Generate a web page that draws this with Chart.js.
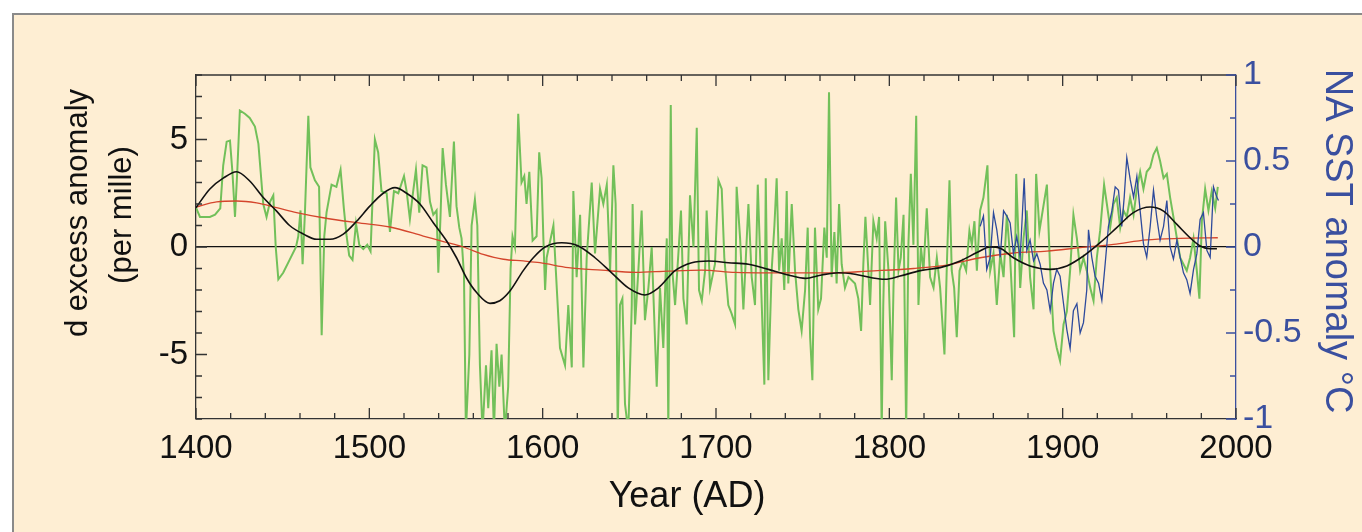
<!DOCTYPE html>
<html>
<head>
<meta charset="utf-8">
<script src="https://cdn.jsdelivr.net/npm/chart.js@4.4.0/dist/chart.umd.min.js"></script>
<style>
  body { margin: 0; background: #fff; }
  #panel { position: absolute; left: 12px; top: 13px; width: 1360px; height: 530px;
           background: #feeed3; border-left: 2px solid #8a8a8a; border-top: 2px solid #8a8a8a; }
  #chart { position: absolute; left: 0; top: 0; }
</style>
</head>
<body>
<div id="panel"></div>
<canvas id="chart" width="1362" height="532"></canvas>
<script>
// d excess record (green), per mille
var greenYears = [1400,1402.3,1408,1411,1414,1415.7,1417.7,1419.6,1421,1422.5,1423.8,1425.3,1428.2,1431,1434,1436,1437.3,1438.8,1440.7,1442.7,1444.6,1446,1447.5,1450.3,1454,1457.7,1459,1460.3,1461.5,1462.8,1464.8,1466,1468.6,1471,1472.5,1474,1475.3,1478.2,1481,1483.4,1485.3,1486.9,1488.4,1490.3,1492.3,1494.2,1496.5,1498.8,1500.7,1503.2,1505.1,1507,1510,1511.9,1514.2,1516.7,1520,1521.5,1523.4,1525,1526.9,1528.8,1530.7,1533,1535,1536.9,1538.8,1539.8,1541.1,1542.3,1544.2,1546.5,1548.8,1550.3,1551.9,1553.2,1554.6,1555.7,1557.7,1559,1560.9,1562.3,1563.8,1565.3,1567.3,1568.6,1570.5,1571.9,1573.4,1575,1576.3,1578.2,1580.1,1581.5,1582.6,1584,1585.9,1587.8,1589.4,1590.7,1592.3,1594.2,1596.5,1598,1599.4,1600.4,1601.4,1602.3,1606.2,1610,1612.9,1614.8,1616.8,1617.7,1619.6,1621.6,1623.5,1625.4,1628.3,1630.2,1633.1,1635,1637,1638.9,1640.8,1642.1,1643.3,1644.6,1646,1647.5,1649.4,1651.4,1651.9,1653.3,1655.2,1657.1,1659,1661,1662.9,1665.8,1667.7,1669.6,1671.6,1672.5,1673.9,1674.8,1676.4,1678.3,1679.8,1681.2,1683.1,1685,1687,1688.9,1690.2,1691.8,1693.7,1694.6,1696.6,1699.4,1701.4,1703.3,1704.8,1707.1,1709,1711,1711.9,1713.9,1715.8,1718.7,1720.6,1722.5,1724.1,1726.4,1727.9,1728.7,1730.2,1732.1,1733.7,1735,1736.4,1737.9,1739.4,1740.8,1741.7,1743.7,1745.6,1747.5,1749.4,1751.4,1752.9,1754.3,1755.6,1757.1,1759,1760.6,1762.5,1763.9,1765.2,1766.7,1768.3,1769.6,1771,1772.5,1774.4,1776.4,1780.2,1782.1,1783.7,1785,1786.2,1787.3,1788.9,1790.8,1792.7,1794.1,1795.6,1796.5,1797.6,1799.5,1801.4,1802.4,1803.9,1805.3,1806.6,1808.2,1809.7,1811,1812.4,1813.9,1815.5,1816.8,1818.2,1819.7,1821.6,1823.5,1825.5,1827.4,1829.3,1831.8,1833.2,1834.7,1836,1837.4,1838.9,1840.5,1842.4,1844.3,1846.2,1847.6,1849.1,1850.5,1852.4,1854.3,1856.6,1858.2,1860.1,1862,1864,1865.9,1867.8,1869.7,1872,1873.2,1875.5,1877.4,1879.3,1881.2,1883.2,1884.7,1886.6,1888.5,1890.9,1892.8,1894.7,1896.6,1898.5,1900.5,1902.4,1904.3,1906.2,1908.2,1910.1,1912,1913.9,1915.9,1917.8,1919.7,1921.6,1923.9,1925.5,1927.4,1929.3,1931.2,1933.2,1935.1,1937,1938.9,1940.9,1942.8,1944.7,1946.6,1948.5,1950.5,1952.4,1954.3,1956.2,1958.2,1960.1,1962,1963.9,1965.9,1967.8,1969.7,1971.6,1973.5,1975.5,1977.4,1978.9,1980.3,1982.2,1984.1,1986,1988,1989.5];
var greenValues = [1.83,1.4,1.4,1.5,1.8,3.8,4.9,4.95,3.5,1.4,3.5,6.35,6.2,6.0,5.6,4.8,3.5,2.0,1.4,2.1,2.4,0.0,-1.5,-1.2,-0.6,0.0,0.5,1.7,-0.8,1.5,6.1,3.7,3.1,2.8,-4.1,0.5,1.6,2.9,2.8,3.6,1.8,0.5,-0.4,-0.6,1.1,0.1,-0.1,0.1,-0.2,5.0,4.4,2.6,2.5,0.7,2.6,2.5,3.3,2.6,1.3,2.4,3.6,1.6,3.8,3.7,2.1,1.5,1.7,-1.2,1.5,4.6,2.9,1.4,4.9,1.9,0.9,0.4,-1.3,-8.6,-5,1.0,2.2,1.0,-5.5,-8.6,-5.5,-7.5,-4.8,-8.6,-4.5,-6.5,-5,-8.6,-6.5,-1,0.5,0.0,6.2,3.0,3.3,2.0,3.5,0.3,0.5,4.4,3.2,0.4,-2.0,-0.5,1.0,-4.7,-5.5,-2.7,-5.6,2.6,-1.4,1.5,-5.6,-0.5,3.0,-0.3,2.7,2.0,2.9,-1.1,3.8,2.0,-8.6,-2.7,-2.4,-7.3,-8.6,-2.7,2.0,-3.6,-1.1,1.7,-3.4,-1.9,0.0,-6.5,-1.9,-4.7,0.4,-8.6,6.6,-1.1,-2.7,-0.3,1.7,-2.4,-3.6,2.4,0.0,5.55,-2.0,-2.5,-1.1,1.7,-1.9,-0.8,3.1,2.7,-0.5,-2.7,-3.1,-3.6,2.8,0.4,-2.9,2.0,-1.4,-2.7,2.9,-2.7,-6.4,3.2,-6.2,-1.1,1.0,3.2,-1.1,0.4,-2.0,2.6,-1.7,2.0,-1.1,-2.9,-3.9,-2.0,0.9,-4.2,-6.2,0.9,-2.9,-2.4,0.9,-0.5,7.2,-1.4,0.7,-1.7,2.0,-0.8,-1.9,-1.4,-1.7,-2.4,-3.9,-0.8,1.4,-0.2,-2.7,1.2,0.4,1.4,-8.6,-2.7,1.2,-1.1,-6.2,-1.9,2.3,-1.1,-0.5,1.5,-8.6,0.1,3.4,0.1,6.1,-2.7,0.0,-1.1,1.8,-1.4,-1.9,-0.5,-1.9,-5.0,-0.8,3.1,-1.1,-1.9,-4.2,-1.1,-0.65,-1.1,0.75,0.1,1.2,-1.1,1.7,2.3,3.8,-1.1,-0.3,-2.7,-0.3,-1.4,1.5,-0.5,-4.2,3.4,-1.9,0.4,1.7,-1.4,-2.9,3.4,0.75,1.7,2.9,-1.1,-3.9,-4.7,-5.3,-3.6,-3.0,-1.1,1.5,0.4,-1.1,-0.5,-1.1,-1.9,-2.5,-0.5,0.75,2.9,2.0,0.9,2.0,2.3,0.9,1.7,1.4,2.3,1.5,2.7,3.5,2.7,3.5,3.7,4.3,4.6,4.0,3.2,3.4,2.3,1.4,0.4,-0.5,-0.8,-1.1,-0.5,0.4,-1.1,-2.4,1.2,2.7,1.7,2.6,1.8,2.8];

// smoothed d excess (black)
var blackYears = [1400,1408,1415.7,1423.4,1431,1438.8,1446.5,1454,1462,1469.6,1477.3,1485,1492.7,1500.3,1508,1514.8,1521.5,1529.2,1536.9,1544.6,1550.3,1556,1561.9,1569.6,1575.3,1581.1,1588.8,1594.6,1601.4,1611,1620.6,1630.2,1639.8,1649.4,1659,1666.8,1676.4,1686,1695.6,1707.1,1718.7,1730.2,1741.7,1751.4,1761,1770.6,1780.2,1789.8,1797.5,1806.2,1817.8,1829.3,1840.9,1850.5,1858.2,1864,1871.6,1881.2,1892.8,1902.4,1912,1921.6,1931.2,1940.8,1950.5,1958.2,1965.9,1973.5,1979.3,1985,1989];
var blackValues = [1.83,2.7,3.2,3.5,3.07,2.3,1.67,1.0,0.6,0.36,0.36,0.6,1.2,1.9,2.5,2.76,2.5,2.0,1.13,0.28,-0.5,-1.43,-2.12,-2.62,-2.5,-2.05,-1.1,-0.5,0.0,0.2,0.05,-0.5,-1.2,-1.9,-2.23,-1.9,-1.1,-0.73,-0.65,-0.73,-0.8,-1.04,-1.3,-1.46,-1.3,-1.2,-1.27,-1.43,-1.5,-1.35,-1.1,-0.96,-0.65,-0.26,0.0,-0.06,-0.5,-0.88,-1.04,-0.88,-0.42,0.2,0.9,1.6,1.86,1.67,1.05,0.43,0.05,-0.08,-0.08];

// long-term trend (red)
var redYears = [1400,1411.9,1423.4,1435,1446.5,1458,1473.4,1492.7,1511.9,1531.1,1542.7,1554.2,1565.7,1577.3,1588.8,1598.4,1614.8,1634,1653.3,1672.5,1691.8,1711,1730.2,1749.5,1768.7,1787.9,1814,1833.2,1852.4,1871.6,1890.9,1910.1,1929.3,1948.5,1967.8,1989.5];
var redValues = [1.86,2.1,2.14,2.05,1.83,1.6,1.36,1.13,0.93,0.51,0.25,0,-0.34,-0.57,-0.65,-0.73,-0.96,-1.08,-1.18,-1.12,-1.08,-1.18,-1.2,-1.2,-1.2,-1.12,-1.0,-0.84,-0.5,-0.28,-0.19,-0.03,0.12,0.33,0.4,0.43];

// NA SST anomaly (blue), deg C, right axis
var blueYears = [1852.4,1854.3,1856.2,1858.2,1860.1,1862,1864,1865.9,1867.8,1869.7,1871.6,1873.5,1875.5,1877.8,1879.3,1881.2,1883.2,1885.1,1887,1888.9,1890.9,1892.8,1894.7,1896.6,1898.5,1900.5,1902.4,1904.3,1906.2,1908.2,1910.1,1912,1913.9,1914.9,1916.8,1918.7,1920.7,1922.6,1924.5,1926.4,1928.4,1930.3,1932.2,1934.1,1935.5,1937,1939,1940.9,1942.8,1944.7,1946.6,1948.5,1950.5,1952.4,1954.3,1956.2,1958.2,1960.1,1962,1963.9,1965.9,1967.8,1969.7,1971.6,1973.5,1975.5,1977.4,1979.3,1981.2,1983.2,1985.1,1987,1988.9,1989.9];
var blueValues = [0.12,0.18,-0.13,-0.06,0.2,0.1,-0.06,0.21,0.18,0.14,-0.04,0.06,-0.06,0.4,-0.02,0.04,-0.08,-0.04,-0.1,-0.21,-0.25,-0.37,-0.21,-0.13,-0.17,-0.33,-0.48,-0.59,-0.37,-0.33,-0.5,-0.44,-0.25,0.1,-0.06,-0.17,-0.21,-0.31,-0.1,0.12,0.21,0.35,0.33,0.12,0.29,0.52,0.39,0.29,0.41,0.21,0.02,-0.06,0.12,0.33,0.17,0.04,0.12,0.27,0.0,-0.07,0.04,-0.06,-0.15,-0.19,-0.27,-0.13,-0.04,0.16,0.2,-0.02,-0.06,0.35,0.29,0.27];

var leftTicks = [-5, 0, 5];
var rightTicks = [-1, -0.5, 0, 0.5, 1];
var yearTicks = [1400, 1500, 1600, 1700, 1800, 1900, 2000];

var blue = '#3a4f9f';
var fontFamily = '"Liberation Sans", Arial, Helvetica, sans-serif';

function pairs(xs, ys) {
    return xs.map(function (x, i) { return { x: x, y: ys[i] }; });
}

// inward tick marks, top frame line, axis titles
var frameMarks = {
    id: 'frameMarks',
    afterDatasetsDraw: function (chart) {
        var ctx = chart.ctx, a = chart.chartArea, s = chart.scales;
        ctx.save();
        ctx.lineWidth = 1.3;
        ctx.strokeStyle = '#333';
        ctx.beginPath();
        ctx.moveTo(a.left, a.top);
        ctx.lineTo(a.right, a.top);
        ctx.stroke();
        ctx.beginPath();
        s.x.ticks.forEach(function (t) {
            var px = s.x.getPixelForValue(t.value);
            var len = yearTicks.indexOf(t.value) >= 0 ? 11 : 6;
            ctx.moveTo(px, a.top); ctx.lineTo(px, a.top + len);
            ctx.moveTo(px, a.bottom); ctx.lineTo(px, a.bottom - len);
        });
        s.y.ticks.forEach(function (t) {
            var py = s.y.getPixelForValue(t.value);
            var len = leftTicks.indexOf(t.value) >= 0 ? 11 : 6;
            ctx.moveTo(a.left, py); ctx.lineTo(a.left + len, py);
        });
        ctx.stroke();
        ctx.strokeStyle = blue;
        ctx.beginPath();
        s.y2.ticks.forEach(function (t) {
            var py = s.y2.getPixelForValue(t.value);
            var len = rightTicks.indexOf(t.value) >= 0 ? 10 : 6;
            ctx.moveTo(a.right - len, py); ctx.lineTo(a.right, py);
        });
        ctx.stroke();
        ctx.restore();
    },
    afterDraw: function (chart) {
        var ctx = chart.ctx;
        ctx.save();
        ctx.textAlign = 'center';
        ctx.textBaseline = 'middle';
        ctx.fillStyle = '#111';
        ctx.font = '36px ' + fontFamily;
        ctx.fillText('Year (AD)', 687, 497);
        ctx.font = '31px ' + fontFamily;
        ctx.save();
        ctx.translate(78, 213);
        ctx.rotate(-Math.PI / 2);
        ctx.fillText('d excess anomaly', 0, 0);
        ctx.restore();
        ctx.save();
        ctx.translate(122, 215);
        ctx.rotate(-Math.PI / 2);
        ctx.fillText('(per mille)', 0, 0);
        ctx.restore();
        ctx.save();
        ctx.fillStyle = blue;
        ctx.font = '38px ' + fontFamily;
        ctx.translate(1336, 241);
        ctx.rotate(Math.PI / 2);
        ctx.fillText('NA SST anomaly \u00B0C', 0, 0);
        ctx.restore();
        ctx.restore();
    }
};

var ctx = document.getElementById('chart');
var myChart = new Chart(ctx, {
    type: 'line',
    data: {
        datasets: [
            {
                label: 'd excess',
                data: pairs(greenYears, greenValues),
                borderColor: '#72c05a',
                borderWidth: 2,
                pointRadius: 0,
                yAxisID: 'y',
                clip: 0,
                order: 4
            },
            {
                label: 'trend',
                data: pairs(redYears, redValues),
                borderColor: '#d4452c',
                borderWidth: 1.3,
                pointRadius: 0,
                cubicInterpolationMode: 'monotone',
                yAxisID: 'y',
                order: 3
            },
            {
                label: 'NA SST',
                data: pairs(blueYears, blueValues),
                borderColor: '#2d4a9c',
                borderWidth: 1.3,
                pointRadius: 0,
                yAxisID: 'y2',
                order: 2
            },
            {
                label: 'smoothed',
                data: pairs(blackYears, blackValues),
                borderColor: '#111',
                borderWidth: 1.6,
                pointRadius: 0,
                cubicInterpolationMode: 'monotone',
                yAxisID: 'y',
                order: 1
            }
        ]
    },
    options: {
        responsive: false,
        animation: false,
        layout: { padding: { top: 75 } },
        plugins: {
            legend: { display: false },
            tooltip: { enabled: false }
        },
        scales: {
            x: {
                type: 'linear',
                min: 1400,
                max: 2000,
                grid: { display: false, drawTicks: false },
                border: { color: '#333', width: 1.3 },
                ticks: {
                    stepSize: 20,
                    autoSkip: false,
                    maxRotation: 0,
                    padding: 10,
                    color: '#111',
                    font: { family: fontFamily, size: 33 },
                    callback: function (v) { return yearTicks.indexOf(v) >= 0 ? String(v) : ''; }
                },
                afterFit: function (scale) { scale.height = 113; }
            },
            y: {
                position: 'left',
                min: -8,
                max: 8,
                grid: {
                    drawTicks: false,
                    lineWidth: 1.3,
                    color: function (c) { return c.tick && c.tick.value === 0 ? '#111' : 'rgba(0,0,0,0)'; }
                },
                border: { color: '#333', width: 1.3 },
                ticks: {
                    stepSize: 1,
                    autoSkip: false,
                    padding: 8,
                    color: '#111',
                    font: { family: fontFamily, size: 33 },
                    callback: function (v) { return leftTicks.indexOf(v) >= 0 ? String(v) : ''; }
                },
                afterFit: function (scale) { scale.width = 196; }
            },
            y2: {
                position: 'right',
                min: -1,
                max: 1,
                grid: { display: false, drawTicks: false },
                border: { color: blue, width: 1.3 },
                ticks: {
                    stepSize: 0.25,
                    autoSkip: false,
                    padding: 7,
                    color: blue,
                    font: { family: fontFamily, size: 34 },
                    callback: function (v) { return rightTicks.indexOf(v) >= 0 ? String(v) : ''; }
                },
                afterFit: function (scale) { scale.width = 126; }
            }
        }
    },
    plugins: [frameMarks]
});
</script>
</body>
</html>
